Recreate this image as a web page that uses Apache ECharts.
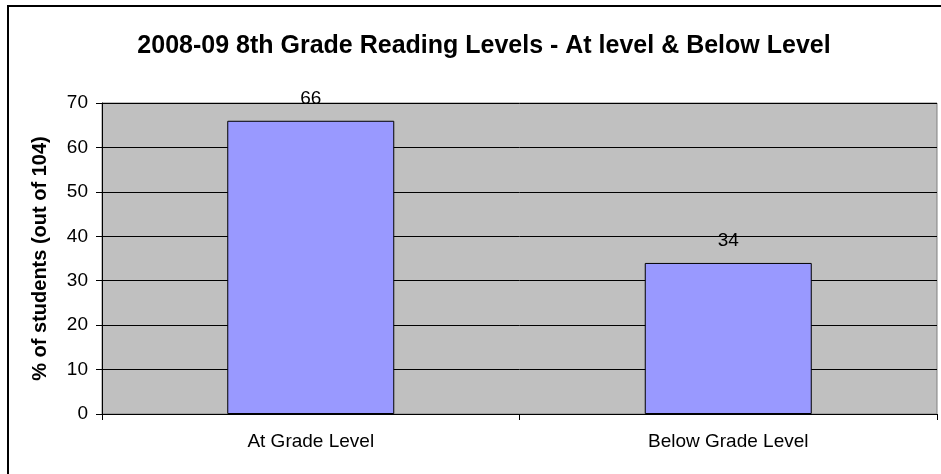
<!DOCTYPE html>
<html>
<head>
<meta charset="utf-8">
<script src="https://cdn.jsdelivr.net/npm/echarts@6/dist/echarts.min.js"></script>
<style>
html, body { margin: 0; padding: 0; background: #fff; }
#main { width: 941px; height: 474px; }
</style>
</head>
<body>
<div id="main"></div>
<script>
// data
var categories = ['At Grade Level', 'Below Grade Level'];
var values = [66, 34];

var myChart = echarts.init(document.getElementById('main'));

var option = {
    animation: false,
    backgroundColor: '#ffffff',
    title: {
        text: '2008-09 8th Grade Reading Levels - At level & Below Level',
        left: 479,
        top: 29,
        textAlign: 'center',
        textStyle: {
            fontFamily: 'Liberation Sans',
            fontSize: 25,
            fontWeight: 'bold',
            color: '#000'
        }
    },
    graphic: [{
        type: 'rect',
        shape: { x: 8, y: 6, width: 960, height: 500 },
        style: { fill: 'none', stroke: '#000', lineWidth: 2 },
        silent: true
    }],
    grid: {
        left: 102,
        right: 4,
        top: 103,
        bottom: 60,
        show: true,
        backgroundColor: '#C0C0C0',
        borderColor: '#808080',
        borderWidth: 1
    },
    xAxis: {
        type: 'category',
        data: categories,
        axisLine: { lineStyle: { color: '#000', width: 1 } },
        axisTick: { show: true, length: 6, alignWithLabel: false, lineStyle: { color: '#000' } },
        axisLabel: {
            margin: 18,
            fontFamily: 'Liberation Sans',
            fontSize: 19,
            color: '#000'
        }
    },
    yAxis: {
        type: 'value',
        min: 0,
        max: 70,
        interval: 10,
        name: '% of students (out of 104)',
        nameLocation: 'middle',
        nameGap: 52,
        nameTextStyle: {
            fontFamily: 'Liberation Sans',
            fontSize: 20,
            fontWeight: 'bold',
            color: '#000'
        },
        axisLine: { show: true, lineStyle: { color: '#000', width: 1 } },
        axisTick: { show: true, length: 6, lineStyle: { color: '#000' } },
        axisLabel: {
            margin: 14,
            fontFamily: 'Liberation Sans',
            fontSize: 19,
            color: '#000'
        },
        splitLine: { show: true, lineStyle: { color: '#000', width: 1 } }
    },
    series: [{
        type: 'bar',
        data: values,
        barWidth: '40%',
        itemStyle: {
            color: '#9999FF',
            borderColor: '#000',
            borderWidth: 1
        },
        label: {
            show: true,
            position: 'top',
            distance: 13,
            fontFamily: 'Liberation Sans',
            fontSize: 19,
            color: '#000'
        }
    }]
};

myChart.setOption(option);
</script>
</body>
</html>
